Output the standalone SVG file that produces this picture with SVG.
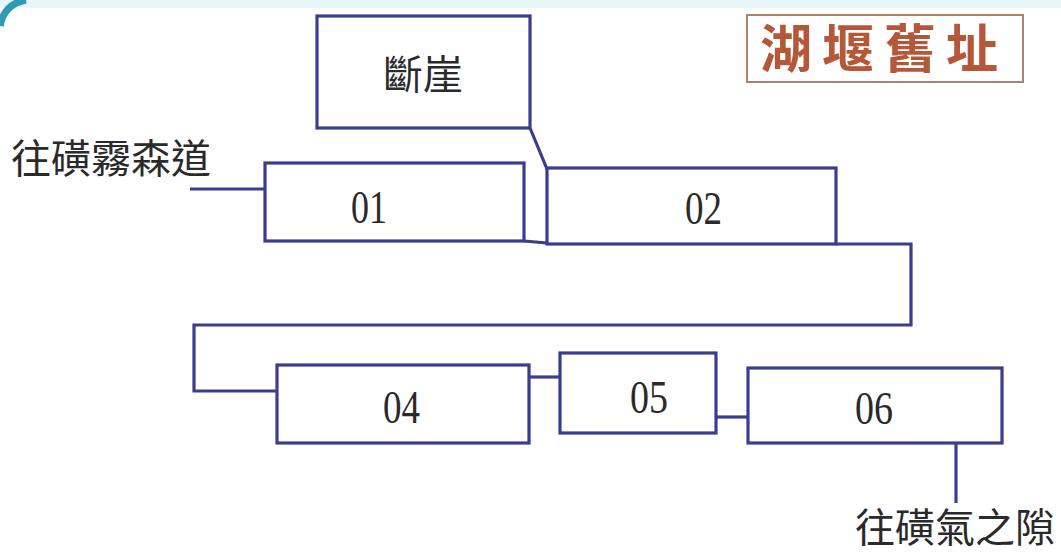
<svg xmlns="http://www.w3.org/2000/svg" width="1061" height="556" viewBox="0 0 1061 556">
<style>
.box{fill:#fff;stroke:#3b3b8f;stroke-width:3.2}
.ln{fill:none;stroke:#3b3b8f;stroke-width:3.2}
.num{font-family:"Liberation Serif",serif;font-size:46px;fill:#2a2a2a}
.cjk{font-family:"Noto Sans CJK TC","Noto Sans CJK SC",sans-serif;font-size:40px;fill:#2a2a2a}
</style>
<rect x="0" y="0" width="1061" height="556" fill="#fff"/>
<rect x="0" y="0" width="1061" height="8" fill="#e6f6f9"/>
<path d="M0 26 Q4 4 26 0" fill="none" stroke="#2e9ab3" stroke-width="7"/>
<g id="title">
<rect x="747" y="15" width="276" height="67" fill="#fff" stroke="#b08070" stroke-width="2"/>
<text x="884" y="68" font-family="Noto Sans CJK TC,sans-serif" font-size="52" font-weight="bold" fill="#b5583a" text-anchor="middle" letter-spacing="10">湖堰舊址</text>
</g>
<g id="connectors">
<path class="ln" d="M530 128 L547 169"/>
<path class="ln" d="M190 189 L265 189"/>
<path class="ln" d="M524 241 L547 243"/>
<path class="ln" d="M836 244 L911 244 L911 325 L194 325 L194 391 L277 391"/>
<path class="ln" d="M529 377 L560 377"/>
<path class="ln" d="M716 417 L748 417"/>
<path class="ln" d="M956 443 L956 503"/>
</g>
<g id="cliff">
<rect class="box" x="317" y="16" width="213" height="112"/>
<text class="cjk" x="423" y="89" text-anchor="middle">斷崖</text>
</g>
<g id="n01">
<rect class="box" x="265" y="163" width="259" height="78"/>
<text class="num" x="351" y="223" textLength="36" lengthAdjust="spacingAndGlyphs">01</text>
</g>
<g id="n02">
<rect class="box" x="547" y="168" width="289" height="76"/>
<text class="num" x="685" y="224" textLength="37" lengthAdjust="spacingAndGlyphs">02</text>
</g>
<g id="n04">
<rect class="box" x="277" y="365" width="252" height="78"/>
<text class="num" x="383" y="423" textLength="37" lengthAdjust="spacingAndGlyphs">04</text>
</g>
<g id="n05">
<rect class="box" x="560" y="353" width="156" height="80"/>
<text class="num" x="630" y="413" textLength="38" lengthAdjust="spacingAndGlyphs">05</text>
</g>
<g id="n06">
<rect class="box" x="748" y="368" width="254" height="75"/>
<text class="num" x="855" y="424" textLength="38" lengthAdjust="spacingAndGlyphs">06</text>
</g>
<g id="labels">
<text class="cjk" x="11" y="173">往磺霧森道</text>
<text class="cjk" x="855" y="542">往磺氣之隙</text>
</g>
</svg>
